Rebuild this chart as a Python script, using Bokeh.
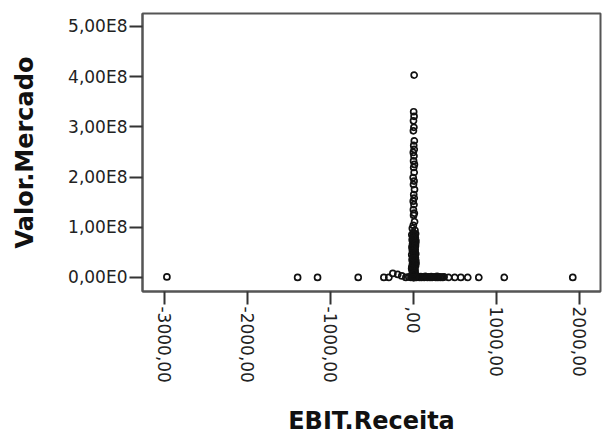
from bokeh.plotting import figure
from bokeh.models import FixedTicker, Range1d
from bokeh.embed import file_html
from bokeh.resources import INLINE

# EBIT / revenue ratio against market value, one point per company
ebit_receita = [
    # isolated firms, far from the bulk
    -2975, -1400, -1160, -670, -361, -301, -253, -193, -145, -96, -60, -35,
    # positive ratios with small market value
    15, 30, 45, 55, 70, 85, 95, 110, 125, 140, 155, 165, 180, 195, 210, 220,
    235, 250, 265, 280, 290, 305, 320, 335, 350, 365,
    420, 494, 566, 650, 783, 1090, 1915,
    # upper part of the column at ratio ~0
    2, -3, 4, -2, 3, -4, 1, -5, 6, -1, 5, -6, 2, -3, 7, -2, 4, -8, 3, -4,
    8, -1, 5, -7, 2, -5, 6, -3, 9, -6,
    # dense base of the column
    -18, 14, -6, 22, -24, 8, -12, 18, 2, -20, 25, -9, 12, -15, 4, 20,
    -22, 10, -3, 16, -17, 13, -7, 23, -25, 9, -11, 19, 1, -21, 24, -8,
    11, -16, 5, 21, -23, 7, -2, 15, -19, 12, -5, 17, -14, 6, 0, -10,
    20, -24, 13, -4, 3, -12, 22, -18, 8, -1, 26, -26, 0, 10, -8, 14,
]
valor_mercado = [
    0.01e8, 0.0, 0.0, 0.0, 0.0, 0.0, 0.08e8, 0.06e8, 0.03e8, 0.0, 0.01e8, 0.0,
    0.01e8, 0.0, 0.02e8, 0.005e8, 0.0, 0.015e8, 0.0, 0.01e8, 0.0, 0.02e8,
    0.005e8, 0.0, 0.01e8, 0.0, 0.015e8, 0.0, 0.005e8, 0.01e8, 0.0, 0.02e8,
    0.0, 0.01e8, 0.0, 0.005e8, 0.0, 0.01e8, 0.0, 0.0,
    0.0, 0.0, 0.0, 0.0, 0.0, 0.0, 0.0,
    4.03e8, 3.30e8, 3.21e8, 3.12e8, 2.99e8, 2.92e8, 2.72e8, 2.63e8, 2.55e8,
    2.49e8, 2.42e8, 2.32e8, 2.25e8, 2.19e8, 2.09e8, 1.99e8, 1.92e8, 1.85e8,
    1.75e8, 1.65e8, 1.58e8, 1.52e8, 1.45e8, 1.35e8, 1.28e8, 1.24e8, 1.11e8,
    1.04e8, 0.98e8, 0.94e8,
    0.89e8, 0.87e8, 0.85e8, 0.83e8, 0.81e8, 0.79e8, 0.77e8, 0.75e8, 0.73e8,
    0.71e8, 0.69e8, 0.67e8, 0.65e8, 0.63e8, 0.61e8, 0.59e8, 0.57e8, 0.55e8,
    0.53e8, 0.51e8, 0.49e8, 0.47e8, 0.45e8, 0.43e8, 0.41e8, 0.39e8, 0.37e8,
    0.35e8, 0.33e8, 0.31e8, 0.29e8, 0.27e8, 0.25e8, 0.23e8, 0.21e8, 0.19e8,
    0.17e8, 0.15e8, 0.13e8, 0.11e8, 0.09e8, 0.07e8, 0.05e8, 0.04e8, 0.03e8,
    0.02e8, 0.015e8, 0.01e8, 0.005e8, 0.0, 0.86e8, 0.78e8, 0.68e8, 0.58e8,
    0.48e8, 0.38e8, 0.28e8, 0.18e8, 0.08e8, 0.0, 0.0, 0.62e8, 0.42e8, 0.22e8,
]

x_ticks = [-3000, -2000, -1000, 0, 1000, 2000]
x_tick_labels = ["-3000,00", "-2000,00", "-1000,00", ",00", "1000,00", "2000,00"]
y_ticks = [0, 100000000, 200000000, 300000000, 400000000, 500000000]
y_tick_labels = ["0,00E0", "1,00E8", "2,00E8", "3,00E8", "4,00E8", "5,00E8"]

p = figure(
    width=603, height=438,
    output_backend="svg", toolbar_location=None,
    x_range=Range1d(-3269, 2249), y_range=Range1d(-0.28e8, 5.257e8),
    min_border_left=142, min_border_right=3,
    min_border_top=13, min_border_bottom=147,
    background_fill_color="white", border_fill_color="white",
)
p.xgrid.visible = False
p.ygrid.visible = False
p.outline_line_color = "#555555"
p.outline_line_width = 2

p.scatter(ebit_receita, valor_mercado, marker="circle", size=6,
          fill_color=None, line_color="#111111", line_width=1.7)

frame_grey = "#555555"
for ax in (p.xaxis[0], p.yaxis[0]):
    ax.axis_line_color = frame_grey
    ax.axis_line_width = 2
    ax.major_tick_line_color = "#333333"
    ax.major_tick_line_width = 2
    ax.major_tick_in = 0
    ax.major_tick_out = 13
    ax.minor_tick_line_color = None
    ax.major_label_standoff = 2
    ax.major_label_text_font = "DejaVu Sans"
    ax.major_label_text_font_size = "17px"
    ax.major_label_text_color = "#222222"
    ax.axis_label_text_font = "DejaVu Sans"
    ax.axis_label_text_font_style = "bold"
    ax.axis_label_text_font_size = "24px"
    ax.axis_label_text_color = "#111111"

p.xaxis.ticker = FixedTicker(ticks=x_ticks)
p.xaxis.major_label_overrides = dict(zip(x_ticks, x_tick_labels))
p.xaxis.major_label_orientation = -1.5707963
p.xaxis.axis_label = "EBIT.Receita"
p.xaxis.axis_label_standoff = 21

p.yaxis.ticker = FixedTicker(ticks=y_ticks)
p.yaxis.major_label_overrides = dict(zip(y_ticks, y_tick_labels))
p.yaxis.axis_label = "Valor.Mercado"
p.yaxis.axis_label_standoff = 26

open("out.html", "w").write(file_html(p, INLINE))
